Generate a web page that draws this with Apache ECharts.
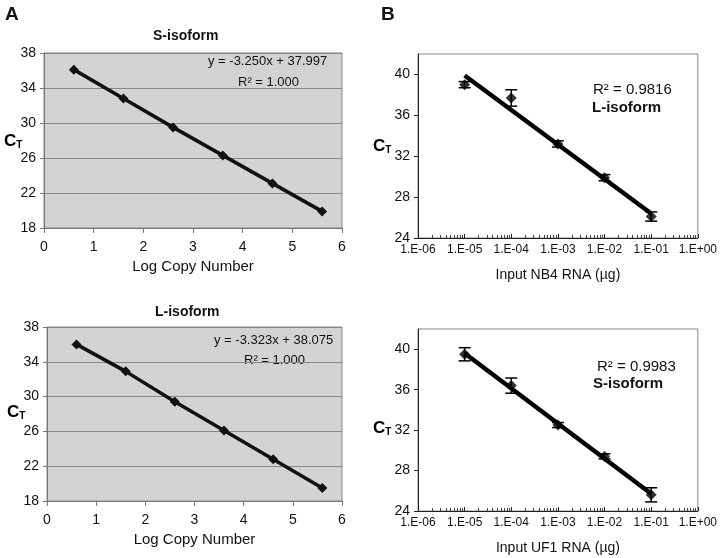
<!DOCTYPE html>
<html>
<head>
<meta charset="utf-8">
<script src="https://cdn.jsdelivr.net/npm/echarts@6/dist/echarts.min.js"></script>
<style>html,body{margin:0;padding:0;background:#fff;}#c{width:720px;height:558px;}</style>
</head>
<body>
<div id="c"></div>
<script>
// ---- Data ----
const logCopy = [0.6, 1.6, 2.6, 3.6, 4.6, 5.6];
const sIsoCt = [36.1, 32.8, 29.5, 26.3, 23.1, 19.9];
const lIsoCt = [36.0, 32.9, 29.4, 26.1, 22.8, 19.5];

const inputUg = [1e-5, 1e-4, 1e-3, 1e-2, 1e-1];
const nb4Ct = [39.0, 37.7, 33.2, 29.9, 26.1];
const nb4Err = [0.3, 0.8, 0.3, 0.3, 0.45];
const nb4TrendX = [1e-5, 1e-1];
const nb4TrendCt = [39.9, 26.4];

const uf1Ct = [39.5, 36.4, 32.5, 29.4, 25.6];
const uf1Err = [0.65, 0.75, 0.25, 0.25, 0.7];
const uf1TrendX = [1e-5, 1e-1];
const uf1TrendCt = [39.6, 25.7];

const FONT = '"Liberation Sans", Arial, sans-serif';

function pairs(xs, ys) { return xs.map((x, i) => [x, ys[i]]); }
function errData(xs, ys, es) { return xs.map((x, i) => [x, ys[i] - es[i], ys[i] + es[i]]); }

function errRender(params, api) {
  const x = api.value(0), lo = api.value(1), hi = api.value(2);
  const p1 = api.coord([x, hi]);
  const p2 = api.coord([x, lo]);
  const w = 6;
  const st = { stroke: '#000', lineWidth: 1.5 };
  return {
    type: 'group',
    children: [
      { type: 'line', shape: { x1: p1[0], y1: p1[1], x2: p2[0], y2: p2[1] }, style: st },
      { type: 'line', shape: { x1: p1[0] - w, y1: p1[1], x2: p1[0] + w, y2: p1[1] }, style: st },
      { type: 'line', shape: { x1: p2[0] - w, y1: p2[1], x2: p2[0] + w, y2: p2[1] }, style: st }
    ]
  };
}

function logFmt(v) {
  const e = Math.round(Math.log10(v));
  return '1.E' + (e < 0 ? '-' : '+') + String(Math.abs(e)).padStart(2, '0');
}

const aX = (name) => ({
  type: 'value', min: 0, max: 6, interval: 1,
  name: name, nameLocation: 'middle', nameGap: 31,
  nameTextStyle: { fontFamily: FONT, fontSize: 15, color: '#111' },
  axisLine: { show: true, lineStyle: { color: '#777', width: 1 } },
  axisTick: { show: true, length: 5, lineStyle: { color: '#777' } },
  axisLabel: { fontFamily: FONT, fontSize: 14, color: '#111', margin: 12 },
  splitLine: { show: false }
});
const aY = () => ({
  type: 'value', min: 18, max: 38, interval: 4,
  axisLine: { show: true, lineStyle: { color: '#777', width: 1 } },
  axisTick: { show: true, length: 4, lineStyle: { color: '#777' } },
  axisLabel: { fontFamily: FONT, fontSize: 14, color: '#111', margin: 8 },
  splitLine: { show: true, lineStyle: { color: '#888', width: 1 } }
});
const bX = (name) => ({
  type: 'log', logBase: 10, min: 1e-6, max: 1,
  name: name, nameLocation: 'middle', nameGap: 30,
  nameTextStyle: { fontFamily: FONT, fontSize: 14, color: '#111' },
  axisLine: { show: true, lineStyle: { color: '#222', width: 1 } },
  axisTick: { show: true, inside: true, length: 4, lineStyle: { color: '#222' } },
  minorTick: { show: true, splitNumber: 9, length: 3, lineStyle: { color: '#444' } },
  axisLabel: { fontFamily: FONT, fontSize: 12, color: '#111', margin: 6, formatter: logFmt },
  splitLine: { show: false }
});
const bY = () => ({
  type: 'value', min: 24, max: 42, interval: 4,
  axisLine: { show: true, lineStyle: { color: '#222', width: 1 } },
  axisTick: { show: true, length: 4, lineStyle: { color: '#222' } },
  axisLabel: { fontFamily: FONT, fontSize: 14, color: '#111', margin: 8, showMaxLabel: false },
  splitLine: { show: false }
});

const chart = echarts.init(document.getElementById('c'), null, { renderer: 'canvas' });

const ctRich = {
  c: { fontFamily: FONT, fontSize: 17, fontWeight: 'bold', color: '#111' },
  t: { fontFamily: FONT, fontSize: 10, fontWeight: 'bold', color: '#111', padding: [8, 0, 0, 0] }
};
function txt(x, y, text, size, bold, align) {
  return { type: 'text', left: x, top: y, style: { text: text, fontFamily: FONT, fontSize: size, fontWeight: bold ? 'bold' : 'normal', fill: '#111', textAlign: align || 'left' } };
}
function ct(x, y) {
  return { type: 'text', left: x, top: y, style: { text: '{c|C}{t|T}', rich: ctRich } };
}

const option = {
  backgroundColor: '#fff',
  animation: false,
  grid: [
    { left: 44, top: 53, width: 298, height: 175, show: true, backgroundColor: '#d3d3d3', borderColor: '#888', borderWidth: 1 },
    { left: 47, top: 327, width: 295, height: 174, show: true, backgroundColor: '#d3d3d3', borderColor: '#888', borderWidth: 1 },
    { left: 418, top: 54, width: 280, height: 184, show: true, backgroundColor: '#fff', borderColor: '#888', borderWidth: 1 },
    { left: 418, top: 329, width: 280, height: 182, show: true, backgroundColor: '#fff', borderColor: '#888', borderWidth: 1 }
  ],
  xAxis: [
    Object.assign(aX('Log Copy Number'), { gridIndex: 0 }),
    Object.assign(aX('Log Copy Number'), { gridIndex: 1 }),
    Object.assign(bX('Input NB4 RNA (µg)'), { gridIndex: 2 }),
    Object.assign(bX('Input UF1 RNA (µg)'), { gridIndex: 3 })
  ],
  yAxis: [
    Object.assign(aY(), { gridIndex: 0 }),
    Object.assign(aY(), { gridIndex: 1 }),
    Object.assign(bY(), { gridIndex: 2 }),
    Object.assign(bY(), { gridIndex: 3 })
  ],
  series: [
    { type: 'line', xAxisIndex: 0, yAxisIndex: 0, data: pairs(logCopy, sIsoCt), symbol: 'diamond', symbolSize: 10,
      itemStyle: { color: '#111' }, lineStyle: { color: '#111', width: 3.5 } },
    { type: 'line', xAxisIndex: 1, yAxisIndex: 1, data: pairs(logCopy, lIsoCt), symbol: 'diamond', symbolSize: 10,
      itemStyle: { color: '#111' }, lineStyle: { color: '#111', width: 3.5 } },

    { type: 'line', xAxisIndex: 2, yAxisIndex: 2, data: pairs(nb4TrendX, nb4TrendCt), symbol: 'none',
      lineStyle: { color: '#000', width: 4.5 } },
    { type: 'custom', xAxisIndex: 2, yAxisIndex: 2, data: errData(inputUg, nb4Ct, nb4Err), renderItem: errRender,
      encode: { x: 0, y: [1, 2] }, z: 3 },
    { type: 'scatter', xAxisIndex: 2, yAxisIndex: 2, data: pairs(inputUg, nb4Ct), symbol: 'diamond', symbolSize: 11,
      itemStyle: { color: '#000' }, z: 4 },

    { type: 'line', xAxisIndex: 3, yAxisIndex: 3, data: pairs(uf1TrendX, uf1TrendCt), symbol: 'none',
      lineStyle: { color: '#000', width: 4.5 } },
    { type: 'custom', xAxisIndex: 3, yAxisIndex: 3, data: errData(inputUg, uf1Ct, uf1Err), renderItem: errRender,
      encode: { x: 0, y: [1, 2] }, z: 3 },
    { type: 'scatter', xAxisIndex: 3, yAxisIndex: 3, data: pairs(inputUg, uf1Ct), symbol: 'diamond', symbolSize: 11,
      itemStyle: { color: '#000' }, z: 4 }
  ],
  graphic: [
    txt(5, 5, 'A', 19, true),
    txt(381, 5, 'B', 19, true),
    txt(153, 29, 'S-isoform', 14, true),
    txt(155, 305, 'L-isoform', 14, true),
    txt(208, 55, 'y = -3.250x + 37.997', 13, false),
    txt(238, 76, 'R² = 1.000', 13, false),
    txt(214, 334, 'y = -3.323x + 38.075', 13, false),
    txt(244, 354, 'R² = 1.000', 13, false),
    txt(593, 82, 'R² = 0.9816', 15, false),
    txt(592, 100, 'L-isoform', 15, true),
    txt(597, 359, 'R² = 0.9983', 15, false),
    txt(593, 376, 'S-isoform', 15, true),
    ct(4, 133),
    ct(7, 404),
    ct(373, 138),
    ct(373, 420)
  ]
};
chart.setOption(option);
</script>
</body>
</html>
